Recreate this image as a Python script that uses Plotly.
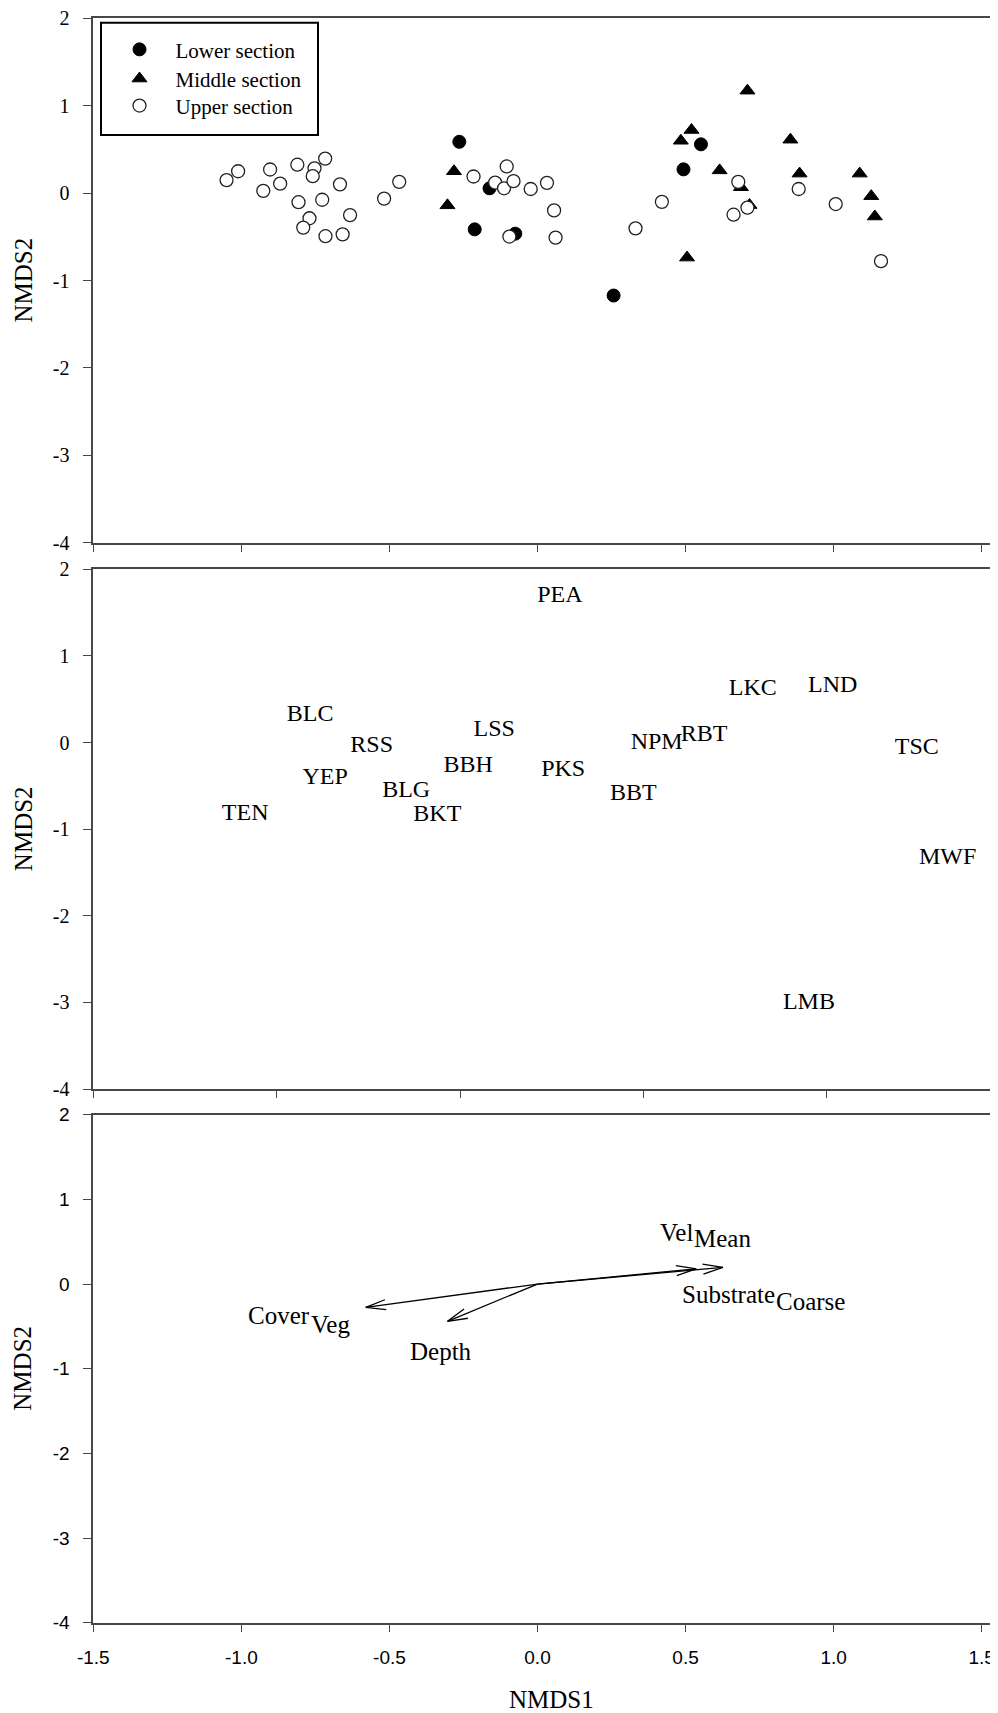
import numpy as np
import plotly.graph_objects as go

# ---------------- data ----------------
# Panel 1: site scores by river section
lower_x = [-0.264, -0.162, -0.212, -0.075, 0.552, 0.493, 0.257]
lower_y = [0.587, 0.055, -0.415, -0.464, 0.558, 0.272, -1.172]

middle_x = [-0.282, -0.304, 0.484, 0.520, 0.615, 0.709, 0.854, 0.885, 0.687,
            0.716, 1.088, 1.127, 1.139, 0.505]
middle_y = [0.250, -0.140, 0.599, 0.722, 0.260, 1.172, 0.611, 0.223, 0.067,
            -0.137, 0.223, -0.035, -0.268, -0.738]

upper_x = [-1.050, -1.011, -0.903, -0.926, -0.869, -0.811, -0.753, -0.759, -0.717,
           -0.667, -0.807, -0.727, -0.770, -0.791, -0.716, -0.658, -0.633, -0.518,
           -0.467, -0.216, -0.143, -0.104, -0.113, -0.081, -0.023, 0.032, 0.056,
           -0.095, 0.061, 0.331, 0.420, 0.678, 0.709, 0.662, 0.882, 1.007, 1.160]
upper_y = [0.149, 0.250, 0.270, 0.026, 0.108, 0.325, 0.284, 0.194, 0.395,
           0.100, -0.104, -0.076, -0.288, -0.395, -0.493, -0.472, -0.252, -0.063,
           0.129, 0.190, 0.120, 0.305, 0.055, 0.137, 0.047, 0.117, -0.198,
           -0.497, -0.509, -0.403, -0.100, 0.129, -0.166, -0.247, 0.047, -0.125, -0.779]

# Panel 2: species scores
species = ["PEA", "BLC", "RSS", "YEP", "BLG", "BKT", "TEN", "BBH", "LSS",
           "LKC", "LND", "NPM", "RBT", "PKS", "BBT", "TSC", "MWF", "LMB"]
sp_x = [-0.228, -0.909, -0.741, -0.868, -0.647, -0.562, -1.086, -0.478, -0.407,
        0.298, 0.516, 0.036, 0.165, -0.219, -0.028, 0.745, 0.829, 0.451]
sp_y = [1.689, 0.322, -0.035, -0.408, -0.561, -0.839, -0.830, -0.271, 0.143,
        0.620, 0.653, -0.010, 0.090, -0.312, -0.590, -0.064, -1.328, -3.006]

# Panel 3: environmental vectors
env_names = ["CoverVeg", "Depth", "VelMean", "SubstrateCoarse"]
env_x = [-0.580, -0.304, 0.626, 0.536]
env_y = [-0.276, -0.440, 0.197, 0.180]
env_label_parts = [["Cover", "Veg"], ["Depth"], ["Vel", "Mean"], ["Substrate", "Coarse"]]

x_tick_vals = [-1.5, -1.0, -0.5, 0.0, 0.5, 1.0, 1.5]
x_tick_text = ["-1.5", "-1.0", "-0.5", "0.0", "0.5", "1.0", "1.5"]
x2_tick_vals = [-1.5, -1.0, -0.5, 0.0, 0.5]
y_tick_vals = [-4, -3, -2, -1, 0, 1, 2]
y_tick_text = ["-4", "-3", "-2", "-1", "0", "1", "2"]

legend_names = ["Lower section", "Middle section", "Upper section"]

# ---------------- layout / style ----------------
W, H = 998, 1713          # page size
OFF = 8                   # page body margin offset
FW, FH = W - OFF, H - OFF  # figure size


def xp(px):
    return (px - OFF) / FW


def yp(py):
    return 1 - (py - OFF) / FH


LEFT, RIGHT = 93.3, 998.0
PANELS = [(18.3, 542.7), (569.3, 1089.0), (1114.7, 1622.7)]  # top, bottom px (page)
SERIF = "Liberation Serif, Times New Roman, serif"
SANS = "Liberation Sans, Arial, sans-serif"
AXC = "#474747"

x13_ppu = (981.7 - LEFT) / 3.0
x13_range = [-1.5, -1.5 + (RIGHT - LEFT) / x13_ppu]
x2_ppu = 183.4 / 0.5
x2_range = [-1.5, -1.5 + (RIGHT - LEFT) / x2_ppu]
y_range = [-4, 2]

# label offsets in pixels (dx right, dy up) relative to vector tips
LABEL_OFFSETS = [[(-86.7, -8.1), (-35.0, -16.7)],
                 [(-6.6, -30.5)],
                 [(-46.7, 35.3), (-0.4, 29.2)],
                 [(32.7, -26.0), (114.7, -32.9)]]
LEGEND_ROW_TOPS = [29.2, 58.4, 85.4]   # page px
LEGEND_LEFT = 103.5

fig = go.Figure()

fig.add_trace(go.Scatter(x=lower_x, y=lower_y, mode="markers", name=legend_names[0],
                         marker=dict(symbol="circle", size=13, color="black",
                                     line=dict(color="black", width=1)),
                         xaxis="x", yaxis="y", legend="legend"))
fig.add_trace(go.Scatter(x=middle_x, y=middle_y, mode="markers", name=legend_names[1],
                         marker=dict(symbol="triangle-up", size=13, color="black",
                                     line=dict(color="black", width=1)),
                         xaxis="x", yaxis="y", legend="legend2"))
fig.add_trace(go.Scatter(x=upper_x, y=upper_y, mode="markers", name=legend_names[2],
                         marker=dict(symbol="circle", size=13, color="white",
                                     line=dict(color="#222222", width=1.3)),
                         xaxis="x", yaxis="y", legend="legend3"))

fig.add_trace(go.Scatter(x=sp_x, y=sp_y, mode="text", text=species,
                         textposition="middle center",
                         textfont=dict(family=SERIF, size=24, color="black"),
                         showlegend=False, hoverinfo="skip",
                         xaxis="x2", yaxis="y2"))

# vectors with open arrow heads (computed in pixel space)
p3_top, p3_bot = PANELS[2]
y3_ppu = (p3_bot - p3_top) / (y_range[1] - y_range[0])
HEAD_LEN, HEAD_W = 20.0, 5.0
for ex, ey in zip(env_x, env_y):
    px, py = ex * x13_ppu, ey * y3_ppu
    n = np.hypot(px, py)
    ux, uy = px / n, py / n
    bx, by = px - HEAD_LEN * ux, py - HEAD_LEN * uy
    h1 = ((bx - HEAD_W * uy) / x13_ppu, (by + HEAD_W * ux) / y3_ppu)
    h2 = ((bx + HEAD_W * uy) / x13_ppu, (by - HEAD_W * ux) / y3_ppu)
    fig.add_trace(go.Scatter(x=[0, ex, None, h1[0], ex, h2[0]],
                             y=[0, ey, None, h1[1], ey, h2[1]],
                             mode="lines", line=dict(color="black", width=1.3),
                             showlegend=False, hoverinfo="skip",
                             xaxis="x3", yaxis="y3"))

annotations = []
for ex, ey, parts, offs in zip(env_x, env_y, env_label_parts, LABEL_OFFSETS):
    for txt, (dx, dy) in zip(parts, offs):
        annotations.append(dict(x=ex, y=ey, xref="x3", yref="y3", text=txt,
                                showarrow=False, xshift=dx, yshift=dy,
                                xanchor="center", yanchor="middle",
                                font=dict(family=SERIF, size=25, color="black")))

for top, bot in PANELS:
    annotations.append(dict(x=xp(23), y=yp((top + bot) / 2), xref="paper", yref="paper",
                            text="NMDS2", textangle=-90, showarrow=False,
                            xanchor="center", yanchor="middle",
                            font=dict(family=SERIF, size=25, color="black")))
annotations.append(dict(x=xp(551), y=yp(1699), xref="paper", yref="paper",
                        text="NMDS1", showarrow=False, xanchor="center", yanchor="middle",
                        font=dict(family=SERIF, size=25, color="black")))


def ydom(i):
    top, bot = PANELS[i]
    return [yp(bot), yp(top)]


xdom = [xp(LEFT), 1.0]
common_x = dict(domain=xdom, showgrid=False, zeroline=False, showline=True,
                linecolor=AXC, linewidth=1.6, mirror=True, ticks="outside",
                ticklen=7, tickwidth=1.3, tickcolor=AXC, automargin=False,
                ticklabeloverflow="allow")
common_y = dict(range=y_range, showgrid=False, zeroline=False, showline=True,
                linecolor=AXC, linewidth=1.6, ticks="outside", ticklen=9,
                tickwidth=1.3, tickcolor=AXC, tickmode="array",
                tickvals=y_tick_vals, ticktext=y_tick_text,
                ticklabelstandoff=9, automargin=False,
                ticklabeloverflow="allow")


def legend_box(row_top):
    return dict(x=xp(LEGEND_LEFT), y=yp(row_top), xanchor="left", yanchor="top",
                bgcolor="rgba(0,0,0,0)", borderwidth=0, itemwidth=62,
                font=dict(family=SERIF, size=21, color="black"))


fig.update_layout(
    template="none",
    width=FW, height=FH,
    margin=dict(l=0, r=0, t=0, b=0, autoexpand=False),
    paper_bgcolor="white", plot_bgcolor="white",
    font=dict(family=SERIF, color="black"),
    xaxis=dict(common_x, range=x13_range, anchor="y", tickmode="array",
               tickvals=x_tick_vals, showticklabels=False),
    yaxis=dict(common_y, domain=ydom(0), anchor="x",
               tickfont=dict(family=SERIF, size=20, color="black")),
    xaxis2=dict(common_x, range=x2_range, anchor="y2", tickmode="array",
                tickvals=x2_tick_vals, showticklabels=False),
    yaxis2=dict(common_y, domain=ydom(1), anchor="x2",
                tickfont=dict(family=SERIF, size=20, color="black")),
    xaxis3=dict(common_x, range=x13_range, anchor="y3", tickmode="array",
                tickvals=x_tick_vals, ticktext=x_tick_text, ticklabelstandoff=10,
                tickfont=dict(family=SANS, size=19, color="black")),
    yaxis3=dict(common_y, domain=ydom(2), anchor="x3",
                tickfont=dict(family=SANS, size=19, color="black")),
    showlegend=True,
    legend=legend_box(LEGEND_ROW_TOPS[0]),
    legend2=legend_box(LEGEND_ROW_TOPS[1]),
    legend3=legend_box(LEGEND_ROW_TOPS[2]),
    shapes=[dict(type="rect", xref="paper", yref="paper",
                 x0=xp(101), x1=xp(318), y0=yp(135), y1=yp(22.7),
                 line=dict(color="black", width=2), fillcolor="rgba(0,0,0,0)")],
    annotations=annotations,
)

fig.write_html("out.html")
